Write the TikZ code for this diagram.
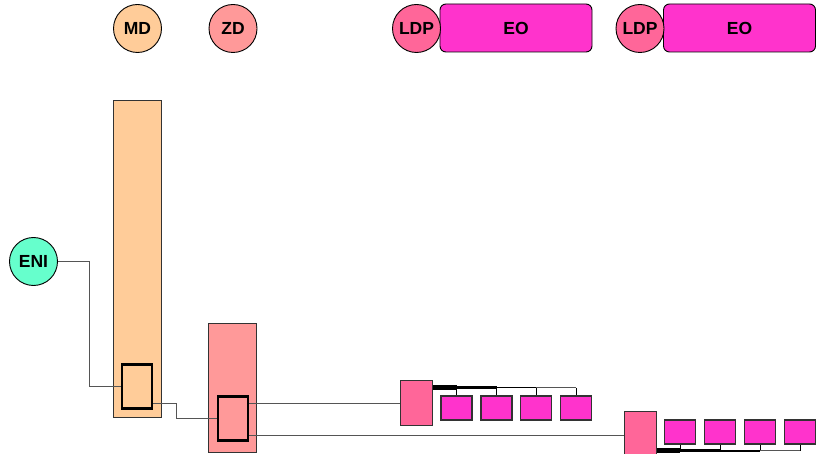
\documentclass[tikz,border=0pt]{standalone}
\usepackage{fontspec}
\setmainfont{Liberation Sans}
\usetikzlibrary{calc}
\definecolor{mdc}{HTML}{FFCC99}
\definecolor{zdc}{HTML}{FF9999}
\definecolor{ldpc}{HTML}{FF6699}
\definecolor{eoc}{HTML}{FF33CC}
\definecolor{enic}{HTML}{66FFCC}
\definecolor{edgec}{HTML}{333333}
\definecolor{wirec}{HTML}{555555}
\begin{document}
\begin{tikzpicture}[x=1pt,y=-1pt,
  lbl/.style={font=\bfseries\fontsize{17.5}{17.5}\selectfont},
  circ/.style={circle,draw=black,line width=0.9pt,minimum size=48pt,inner sep=0pt,lbl},
  eohead/.style={rectangle,rounded corners=6pt,draw=black,line width=0.9pt,fill=eoc,minimum width=152pt,minimum height=48pt,inner sep=0pt,lbl},
  bar/.style={rectangle,draw=edgec,line width=0.9pt,inner sep=0pt},
  innerbox/.style={rectangle,draw=black,line width=2.5pt,minimum width=30pt,minimum height=44pt,inner sep=0pt},
  ldpbox/.style={rectangle,draw=edgec,line width=1pt,fill=ldpc,minimum width=32pt,minimum height=45pt,inner sep=0pt},
  eobox/.style={rectangle,draw=edgec,line width=1.3pt,fill=eoc,minimum width=31pt,minimum height=24pt,inner sep=0pt},
  wire/.style={draw=wirec,line width=0.9pt},
  drop/.style={draw=black,line width=0.9pt}
]
\useasboundingbox (0,0) rectangle (819,454);
\clip (0,0) rectangle (819,454);

% header
\node[circ,fill=mdc] (md) at (137.5,28.5) {MD};
\node[circ,fill=zdc] (zd) at (233,28.5) {ZD};
\node[eohead] (eo1) at (516,28) {EO};
\node[circ,fill=ldpc] (ldp1) at (416.5,28.5) {LDP};
\node[eohead] (eo2) at (739.5,28) {EO};
\node[circ,fill=ldpc] (ldp2) at (640,28.5) {LDP};

% ENI
\node[circ,fill=enic] (eni) at (33.5,261.5) {ENI};

% bars
\node[bar,fill=mdc,minimum width=48pt,minimum height=317pt] (mdbar) at (137,258.5) {};
\node[bar,fill=zdc,minimum width=48.5pt,minimum height=129pt] (zdbar) at (232.5,387.5) {};
\node[innerbox] (mdin) at (137,386.7) {};
\node[innerbox] (zdin) at (233,418.3) {};

% LDP boxes and EO boxes
\node[ldpbox] (lb1) at (416.5,402.5) {};
\node[eobox] (e11) at (456.5,408) {};
\node[eobox] (e12) at (496.5,408) {};
\node[eobox] (e13) at (536.2,408) {};
\node[eobox] (e14) at (576.2,408) {};

\node[ldpbox] (lb2) at (640,434) {};
\node[eobox] (e21) at (680.3,432) {};
\node[eobox] (e22) at (720,432) {};
\node[eobox] (e23) at (760,432) {};
\node[eobox] (e24) at (800,432) {};

% wires
\draw[wire] (eni.east) -| ($(eni.east)!.5!(mdin.west)$) |- (mdin.west);
\coordinate (mdout) at ([yshift=-16.5pt]mdin.east);
\coordinate (j1) at ($(mdout)!0.37!(zdin.west)$);
\draw[wire] (mdout) -| (j1) |- (zdin.west);
\coordinate (zdout1) at ([yshift=15pt]zdin.east);
\coordinate (zdout2) at ([yshift=-17.4pt]zdin.east);
\draw[wire] (zdout1) -- (zdout1 -| lb1.west);
\draw[wire] (zdout2) -- (zdout2 -| lb2.west);

% bus 1
\coordinate (b1) at ([yshift=15pt]lb1.east);
\draw[drop] (b1 -| e11.north) -- (e11.north);
\draw[drop] (b1 -| e12.north) -- (e12.north);
\draw[drop] (b1 -| e13.north) -- (e13.north);
\draw[drop] (b1 -| e14.north) -- (e14.north);
\draw[line width=5pt] (b1) -- (b1 -| e11.north);
\draw[line width=3pt] (b1 -| e11.north) -- (b1 -| e12.north);
\draw[line width=1.8pt] (b1 -| e12.north) -- (b1 -| e13.north);
\draw[line width=1pt,draw=wirec] (b1 -| e13.north) -- (b1 -| e14.north);

% bus 2
\coordinate (b2) at ([yshift=-16.7pt]lb2.east);
\draw[drop] (b2 -| e21.south) -- (e21.south);
\draw[drop] (b2 -| e22.south) -- (e22.south);
\draw[drop] (b2 -| e23.south) -- (e23.south);
\draw[drop] (b2 -| e24.south) -- (e24.south);
\draw[line width=5pt] (b2) -- (b2 -| e21.south);
\draw[line width=3pt] (b2 -| e21.south) -- (b2 -| e22.south);
\draw[line width=1.8pt] (b2 -| e22.south) -- (b2 -| e23.south);
\draw[line width=1pt,draw=wirec] (b2 -| e23.south) -- (b2 -| e24.south);
\end{tikzpicture}
\end{document}
